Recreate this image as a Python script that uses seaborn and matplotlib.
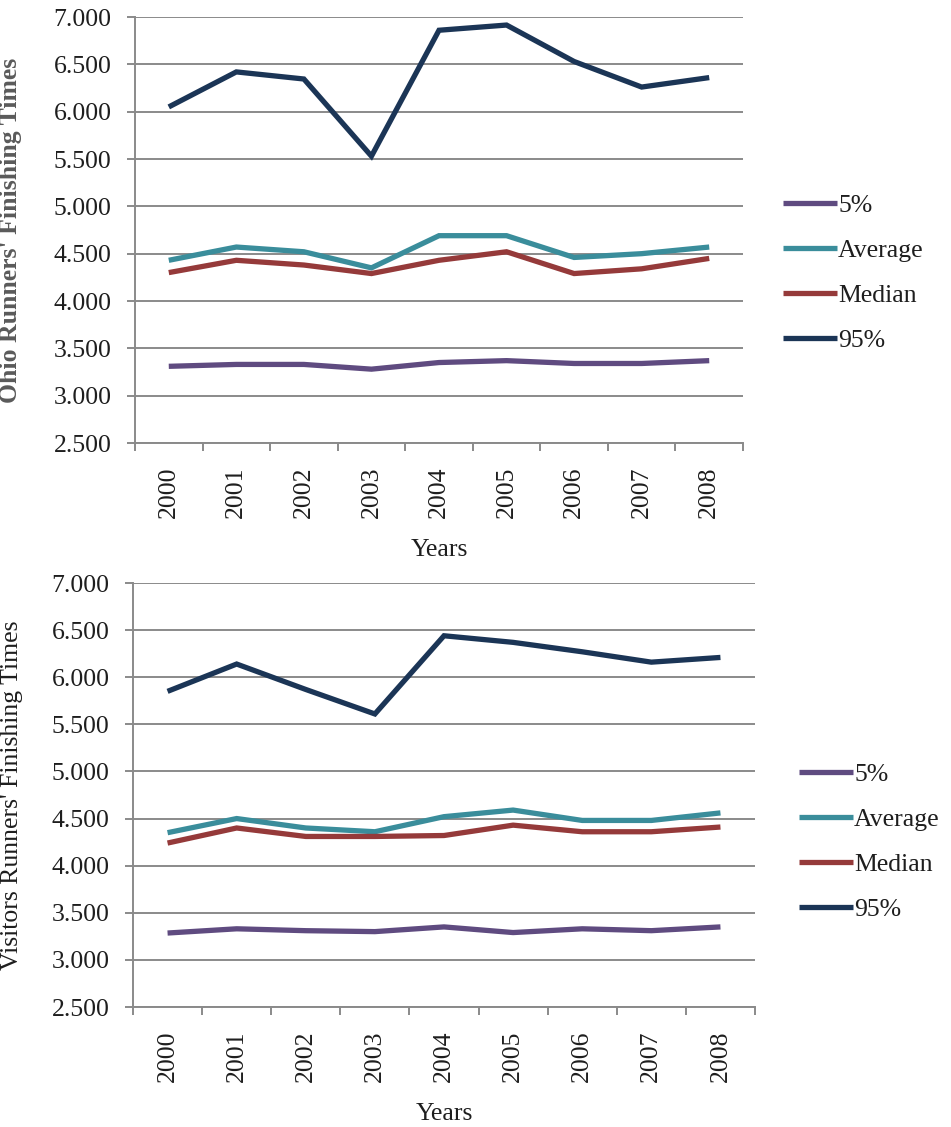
import matplotlib
matplotlib.use("Agg")
import matplotlib.pyplot as plt
import numpy as np
import pandas as pd
import seaborn as sns
from matplotlib.ticker import FixedLocator, FuncFormatter

# Finishing times (hours) by year
years = [2000, 2001, 2002, 2003, 2004, 2005, 2006, 2007, 2008]
series_names = ["5%", "Average", "Median", "95%"]

ohio_p5 = [3.31, 3.33, 3.33, 3.28, 3.35, 3.37, 3.34, 3.34, 3.37]
ohio_avg = [4.43, 4.57, 4.52, 4.35, 4.69, 4.69, 4.46, 4.50, 4.57]
ohio_median = [4.30, 4.43, 4.38, 4.29, 4.43, 4.52, 4.29, 4.34, 4.45]
ohio_p95 = [6.05, 6.42, 6.345, 5.53, 6.86, 6.915, 6.53, 6.26, 6.36]

visitors_p5 = [3.285, 3.33, 3.31, 3.30, 3.35, 3.29, 3.33, 3.31, 3.35]
visitors_avg = [4.35, 4.50, 4.40, 4.36, 4.52, 4.59, 4.48, 4.48, 4.56]
visitors_median = [4.24, 4.40, 4.31, 4.31, 4.32, 4.43, 4.36, 4.36, 4.41]
visitors_p95 = [5.85, 6.14, 5.87, 5.61, 6.44, 6.37, 6.27, 6.16, 6.21]

y_ticks = [2.5, 3.0, 3.5, 4.0, 4.5, 5.0, 5.5, 6.0, 6.5, 7.0]

palette = {"5%": "#5F4B80", "Average": "#3A8D9B", "Median": "#953A3A", "95%": "#1B3556"}


def long_frame(p5, avg, median, p95):
    parts = []
    for name, vals in zip(series_names, [p5, avg, median, p95]):
        parts.append(pd.DataFrame({"year": years, "value": vals, "series": name}))
    return pd.concat(parts, ignore_index=True)


ohio_df = long_frame(ohio_p5, ohio_avg, ohio_median, ohio_p95)
visitors_df = long_frame(visitors_p5, visitors_avg, visitors_median, visitors_p95)

sns.set_theme(style="white")
plt.rcParams["font.family"] = ["Liberation Serif", "DejaVu Serif"]

W, H = 951, 1127
fig = plt.figure(figsize=(W / 100, H / 100), dpi=100)

FS = 18.5
GRID = "#8a8a8a"
TXT = "#1e1e1e"


def make_axes(l, t, r, b):
    return fig.add_axes([l / W, 1 - b / H, (r - l) / W, (b - t) / H])


def style_axes(ax, df, ylabel, ylabel_x, bold_label, legend_anchor):
    sns.lineplot(data=df, x="year", y="value", hue="series", hue_order=series_names,
                 palette=palette, linewidth=3.8, ax=ax, legend=False,
                 solid_joinstyle="miter", solid_capstyle="butt")
    ax.set_xlim(years[0] - 0.5, years[-1] + 0.5)
    ax.set_ylim(y_ticks[0], y_ticks[-1])
    ax.yaxis.set_major_locator(FixedLocator(y_ticks))
    ax.yaxis.set_major_formatter(FuncFormatter(lambda v, p: f"{v:.3f}"))
    ax.xaxis.set_major_locator(FixedLocator(years))
    ax.xaxis.set_major_formatter(FuncFormatter(lambda v, p: f"{int(round(v))}"))
    ax.xaxis.set_minor_locator(FixedLocator([y - 0.5 for y in years] + [years[-1] + 0.5]))
    ax.grid(axis="y", color=GRID, linewidth=1.4)
    ax.grid(axis="x", visible=False)
    ax.set_axisbelow(True)
    for s in ["top", "right"]:
        ax.spines[s].set_visible(False)
    for s in ["left", "bottom"]:
        ax.spines[s].set_color(GRID)
        ax.spines[s].set_linewidth(1.4)
    ax.tick_params(axis="y", which="major", length=6, width=1.4, color=GRID,
                   direction="out", pad=11, labelsize=FS, labelcolor=TXT, left=True)
    ax.tick_params(axis="x", which="major", length=0, pad=17, labelsize=FS,
                   labelcolor=TXT, labelrotation=90, bottom=True)
    ax.tick_params(axis="x", which="minor", length=6, width=1.4, color=GRID,
                   direction="out", bottom=True)
    ax.set_xlabel("Years", fontsize=FS, color=TXT, labelpad=15)
    if bold_label:
        ax.set_ylabel(ylabel, fontsize=FS, color="#5a5a5a", fontweight="bold")
    else:
        ax.set_ylabel(ylabel, fontsize=FS, color=TXT)
    ax.yaxis.set_label_coords(ylabel_x, 0.5)

    handles = ax.get_lines()[:len(series_names)]
    leg = fig.legend(handles, series_names, loc="center left",
                     bbox_to_anchor=legend_anchor, bbox_transform=fig.transFigure,
                     frameon=False, fontsize=FS, handlelength=2.1, handletextpad=0.05,
                     labelspacing=0.85, borderpad=0, borderaxespad=0)
    for t in leg.get_texts():
        t.set_color(TXT)


ax_top = make_axes(135, 17, 743, 443)
style_axes(ax_top, ohio_df, "Ohio Runners' Finishing Times", -0.186, True,
           (783 / W, 1 - 273 / H))

ax_bot = make_axes(133, 583, 755, 1007)
style_axes(ax_bot, visitors_df, "Visitors Runners' Finishing Times", -0.177, False,
           (799 / W, 1 - 842 / H))

fig.savefig("out.png", dpi=100, facecolor="white")
